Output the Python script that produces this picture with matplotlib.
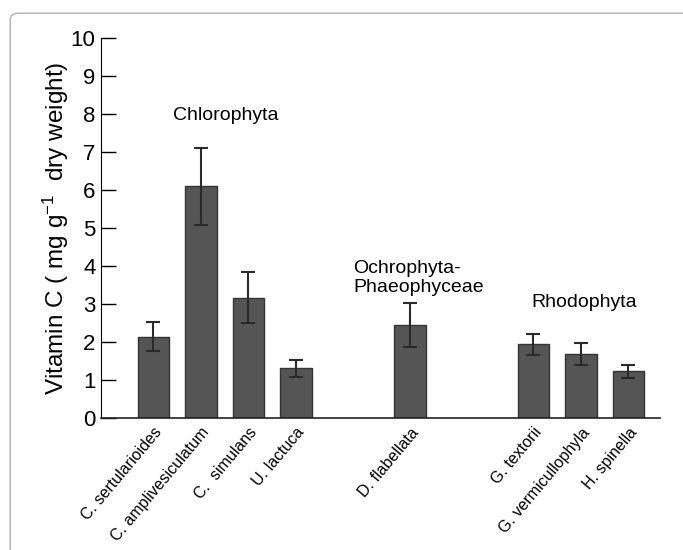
import matplotlib
matplotlib.use('Agg')
import matplotlib.pyplot as plt
from matplotlib.patches import FancyBboxPatch
import numpy as np

plt.rcParams['font.family'] = ['Liberation Sans', 'DejaVu Sans']
plt.rcParams['mathtext.fontset'] = 'custom'
plt.rcParams['mathtext.rm'] = 'Liberation Sans'
plt.rcParams['mathtext.it'] = 'Liberation Sans'

# Data
species = ['C. sertularioides', 'C. amplivesiculatum', 'C.  simulans', 'U. lactuca',
           'D. flabellata', 'G. textorii', 'G. vermicullophyla', 'H. spinella']
positions = [0, 1, 2, 3, 5.4, 8, 9, 10]
vitamin_c = [2.14, 6.10, 3.16, 1.31, 2.44, 1.94, 1.69, 1.23]
errors = [0.39, 1.01, 0.67, 0.22, 0.58, 0.27, 0.29, 0.17]
groups = ['Chlorophyta', 'Ochrophyta-\nPhaeophyceae', 'Rhodophyta']

fig = plt.figure(figsize=(6.83, 5.5), dpi=100)
ax = fig.add_axes([0.148, 0.24, 0.818, 0.691])

# frame around the figure
frame = FancyBboxPatch((0.015, -0.1), 1.2, 1.076, boxstyle='round,pad=0,rounding_size=0.012',
                       transform=fig.transFigure, fill=False, edgecolor='#b0b0b0', linewidth=1.0)
fig.patches.append(frame)

ax.bar(positions, vitamin_c, width=0.66, color='#555555', edgecolor='#333333', linewidth=1.0,
       yerr=errors, error_kw=dict(ecolor='#2a2a2a', elinewidth=1.5, capsize=5, capthick=1.5))

ax.set_xlim(-1.1, 10.66)
ax.set_ylim(0, 10)
ax.set_yticks(range(0, 11))
ax.tick_params(axis='y', direction='in', length=11, width=1, labelsize=16, pad=4)
ax.set_xticks(positions)
ax.set_xticklabels(species, rotation=50, ha='right', va='top', rotation_mode='anchor', fontsize=11.5)
ax.tick_params(axis='x', length=0, pad=5)

ax.spines['top'].set_visible(False)
ax.spines['right'].set_visible(False)
ax.spines['left'].set_color('black')
ax.spines['bottom'].set_color('#222222')
ax.spines['bottom'].set_linewidth(1.2)

ax.set_ylabel('Vitamin C ( mg g$^{-1}$  dry weight)', fontsize=17.5, labelpad=0)

# group labels
ax.text(1.53, 7.95, groups[0], fontsize=14, ha='center', va='center')
ax.text(4.2, 3.68, groups[1], fontsize=14, ha='left', va='center', linespacing=1.15)
ax.text(7.95, 3.03, groups[2], fontsize=14, ha='left', va='center')

plt.savefig('out.png', dpi=100)
